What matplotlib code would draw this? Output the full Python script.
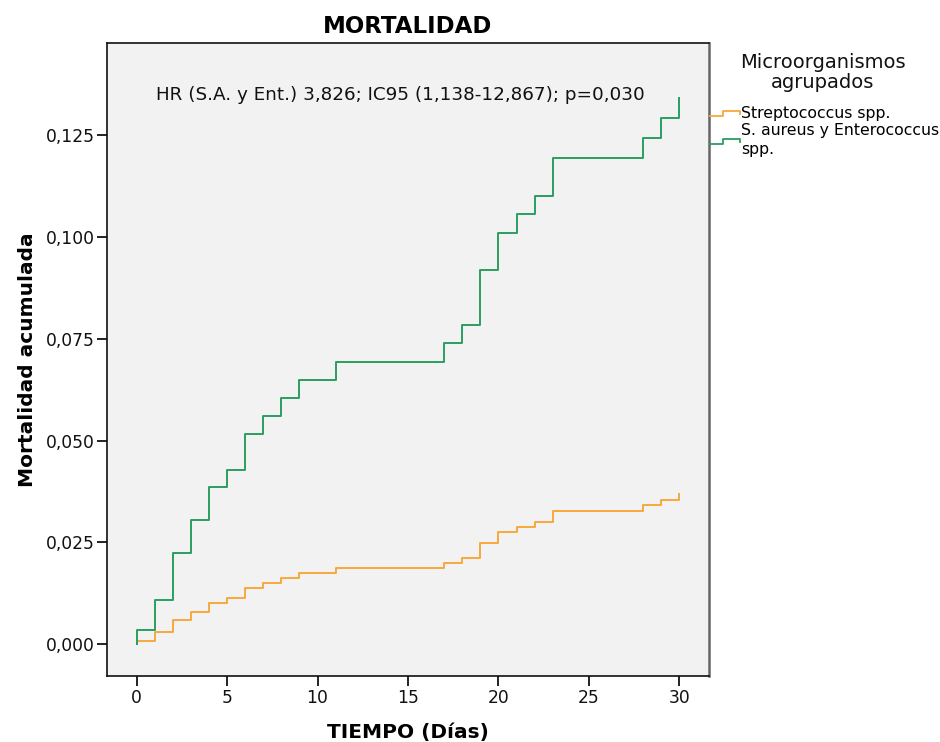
import matplotlib
matplotlib.use("Agg")
import matplotlib.pyplot as plt
from matplotlib.legend_handler import HandlerBase
from matplotlib.lines import Line2D

# Cumulative mortality by day (Kaplan-Meier style step curves)
strep_days = [0, 0, 1, 2, 3, 4, 5, 6, 7, 8, 9, 11, 17, 18, 19, 20, 21, 22, 23, 28, 29, 30]
strep_mort = [0, 0.0008, 0.0029, 0.0060, 0.0079, 0.0102, 0.0114, 0.0139, 0.0151, 0.0163,
              0.0176, 0.0187, 0.0200, 0.0212, 0.0249, 0.0275, 0.0287, 0.0301, 0.0328,
              0.0343, 0.0355, 0.0368]

sa_days = [0, 0, 1, 2, 3, 4, 5, 6, 7, 8, 9, 11, 17, 18, 19, 20, 21, 22, 23, 28, 29, 30]
sa_mort = [0, 0.0034, 0.0108, 0.0223, 0.0304, 0.0385, 0.0429, 0.0515, 0.0561, 0.0605,
           0.0650, 0.0694, 0.0740, 0.0784, 0.0919, 0.1010, 0.1056, 0.1100, 0.1194,
           0.1243, 0.1292, 0.1340]

x_ticks = [0, 5, 10, 15, 20, 25, 30]
y_ticks = [0, 0.025, 0.05, 0.075, 0.1, 0.125]
y_tick_labels = ['0,000', '0,025', '0,050', '0,075', '0,100', '0,125']

group_labels = ['Streptococcus spp.', 'S. aureus y Enterococcus\nspp.']
orange = '#f7a83a'
green = '#2a9d61'


class StepHandler(HandlerBase):
    # little step-shaped legend key like the SPSS output
    def create_artists(self, legend, orig_handle, xdescent, ydescent,
                       width, height, fontsize, trans):
        xs = [0, 0.45 * width, 0.45 * width, width, width]
        ys = [0.15 * height, 0.15 * height, 0.65 * height, 0.65 * height, 0.35 * height]
        xs = [v - xdescent for v in xs]
        ys = [v - ydescent for v in ys]
        line = Line2D(xs, ys, color=orig_handle.get_color(), lw=1.3)
        line.set_transform(trans)
        return [line]


plt.rcParams['font.family'] = ['DejaVu Sans']

fig = plt.figure(figsize=(9.4, 7.42), dpi=100)
ax = fig.add_axes([0.1138, 0.0889, 0.6405, 0.8536])
ax.set_facecolor('#f2f2f2')

l1, = ax.step(strep_days, strep_mort, where='post', color=orange, lw=1.4)
l2, = ax.step(sa_days, sa_mort, where='post', color=green, lw=1.4)

ax.set_xlim(-1.64, 31.64)
ax.set_ylim(-0.0078, 0.1477)
ax.set_xticks(x_ticks)
ax.set_yticks(y_ticks)
ax.set_yticklabels(y_tick_labels)
ax.tick_params(direction='out', length=7.5, width=1.3, labelsize=12.3, pad=1.5, colors='#111111')

for side in ['left', 'bottom', 'top']:
    ax.spines[side].set_linewidth(1.2)
    ax.spines[side].set_color('#111111')
ax.spines['right'].set_linewidth(1.8)
ax.spines['right'].set_color('#666666')

ax.set_title('MORTALIDAD', fontsize=16.5, fontweight='bold', pad=7)
ax.set_xlabel('TIEMPO (Días)', fontsize=14.5, fontweight='bold', labelpad=12)
ax.set_ylabel('Mortalidad acumulada', fontsize=14.5, fontweight='bold', labelpad=6)

ax.text(0.487, 0.917, 'HR (S.A. y Ent.) 3,826; IC95 (1,138-12,867); p=0,030',
        transform=ax.transAxes, ha='center', va='center', fontsize=13.2, color='#111111')

fig.text(0.8755, 0.9023, 'Microorganismos\nagrupados', ha='center', va='center',
         multialignment='center', fontsize=14, color='#111111', linespacing=1.1)

leg = fig.legend([l1, l2], group_labels, loc='upper left', bbox_to_anchor=(0.755, 0.857),
                 frameon=False, fontsize=11.3, handlelength=1.9, handletextpad=0.1,
                 labelspacing=0.12, borderpad=0, borderaxespad=0,
                 handler_map={Line2D: StepHandler()})
for t in leg.get_texts():
    t.set_linespacing(1.35)

fig.savefig('out.png', dpi=100)
